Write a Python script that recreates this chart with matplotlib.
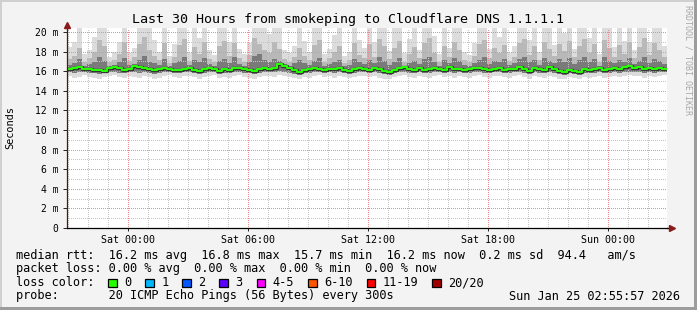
import numpy as np
import pandas as pd
import matplotlib
matplotlib.use("Agg")
import matplotlib.pyplot as plt
import matplotlib.dates as mdates
from matplotlib.patches import Rectangle

# ---- data (15 min steps over the last 30 hours, values in ms) ----
start = pd.Timestamp("2026-01-23 20:56")
n_steps = 120

median = [16.2, 16.3, 16.4, 16.2, 16.2, 16.1, 16.1, 16.0, 16.3, 16.4,
          16.3, 16.1, 16.2, 16.5, 16.4, 16.3, 16.2, 16.1, 16.2, 16.3,
          16.2, 16.1, 16.1, 16.2, 16.3, 16.1, 16.0, 16.2, 16.3, 16.2,
          16.0, 16.2, 16.1, 16.3, 16.3, 16.2, 16.1, 16.0, 16.2, 16.3,
          16.2, 16.3, 16.7, 16.5, 16.3, 16.1, 15.9, 16.1, 16.2, 16.3,
          16.2, 16.1, 16.2, 16.2, 16.3, 16.1, 16.0, 16.2, 16.3, 16.2,
          16.1, 16.3, 16.2, 16.0, 15.9, 16.1, 16.3, 16.4, 16.2, 16.1,
          16.3, 16.1, 16.2, 16.3, 16.2, 16.1, 16.4, 16.2, 16.2, 16.1,
          16.2, 16.3, 16.3, 16.2, 16.1, 16.2, 16.3, 16.1, 16.2, 16.2,
          16.4, 16.2, 16.0, 16.3, 16.2, 16.1, 16.4, 16.2, 16.0, 15.9,
          16.1, 16.0, 15.9, 16.2, 16.1, 16.2, 16.3, 16.1, 16.2, 16.3,
          16.2, 16.4, 16.5, 16.3, 16.4, 16.2, 16.3, 16.2, 16.3, 16.2]

smoke_max = [18.5, 19.0, 20.5, 17.8, 18.2, 19.5, 20.5, 20.5, 17.5, 18.0,
             19.0, 20.5, 17.9, 18.4, 20.5, 20.5, 20.5, 19.2, 18.0, 20.5,
             17.6, 18.8, 20.5, 20.5, 17.9, 20.5, 19.4, 20.5, 18.2, 17.7,
             20.5, 20.5, 19.0, 20.5, 18.3, 17.8, 18.9, 20.5, 20.5, 20.5,
             19.8, 20.5, 20.5, 18.2, 17.9, 18.6, 20.5, 19.1, 18.0, 20.5,
             20.5, 17.8, 18.3, 19.7, 20.5, 17.6, 18.0, 20.5, 19.2, 18.4,
             20.5, 19.0, 20.5, 20.5, 18.1, 20.5, 20.5, 17.9, 19.3, 20.5,
             18.2, 20.5, 20.5, 19.6, 17.8, 20.5, 18.4, 20.5, 20.5, 18.0,
             17.7, 18.9, 20.5, 20.5, 18.3, 20.5, 19.5, 20.5, 17.9, 18.6,
             20.5, 20.5, 19.2, 20.5, 18.0, 20.5, 20.5, 18.7, 20.5, 19.9,
             20.5, 18.3, 20.5, 20.5, 19.4, 20.5, 17.8, 20.5, 20.5, 18.5,
             20.5, 19.1, 20.5, 18.2, 20.5, 20.5, 19.0, 20.5, 20.5, 18.6]

smoke_p90 = [17.2, 17.6, 18.4, 16.9, 17.3, 18.0, 19.2, 18.6, 16.9, 17.1,
             17.8, 19.0, 17.0, 17.4, 18.8, 19.5, 18.2, 17.6, 17.1, 18.9,
             16.8, 17.5, 18.7, 19.3, 17.0, 18.5, 17.8, 19.0, 17.2, 16.9,
             18.6, 19.1, 17.6, 18.9, 17.3, 16.9, 17.7, 19.4, 18.8, 18.2,
             17.9, 19.0, 18.3, 17.2, 16.9, 17.5, 18.4, 17.6, 17.1, 18.7,
             19.2, 16.9, 17.3, 18.0, 18.6, 16.8, 17.1, 18.9, 17.7, 17.3,
             18.8, 17.5, 19.3, 18.6, 17.2, 18.4, 19.1, 16.9, 17.8, 18.5,
             17.3, 18.9, 19.4, 17.9, 16.9, 18.6, 17.4, 19.0, 18.2, 17.1,
             16.9, 17.6, 18.8, 19.2, 17.3, 18.4, 17.9, 18.7, 17.0, 17.5,
             18.9, 19.3, 17.7, 18.6, 17.1, 19.0, 18.3, 17.6, 18.8, 18.1,
             19.1, 17.4, 18.6, 19.3, 17.9, 18.8, 16.9, 19.2, 18.4, 17.5,
             18.7, 17.8, 19.0, 17.3, 18.5, 19.4, 17.7, 18.9, 18.2, 17.4]

smoke_p75 = [16.6, 16.8, 17.2, 16.5, 16.7, 16.9, 17.4, 17.0, 16.5, 16.6,
             16.9, 17.3, 16.6, 16.7, 17.1, 17.6, 16.9, 16.8, 16.6, 17.2,
             16.5, 16.8, 17.0, 17.5, 16.6, 17.1, 16.9, 17.3, 16.7, 16.5,
             17.0, 17.2, 16.8, 17.4, 16.7, 16.5, 16.9, 17.6, 17.8, 17.1,
             16.9, 17.2, 17.0, 16.7, 16.5, 16.8, 17.1, 16.8, 16.6, 17.0,
             17.3, 16.5, 16.7, 16.9, 17.1, 16.5, 16.6, 17.2, 16.9, 16.7,
             17.1, 16.8, 17.4, 17.0, 16.6, 16.9, 17.3, 16.5, 16.8, 17.0,
             16.7, 17.2, 17.5, 16.9, 16.5, 17.1, 16.8, 17.3, 17.0, 16.6,
             16.5, 16.8, 17.1, 17.4, 16.7, 17.0, 16.9, 17.2, 16.6, 16.8,
             17.2, 17.5, 16.9, 17.1, 16.6, 17.3, 17.0, 16.8, 17.2, 16.9,
             17.3, 16.7, 17.1, 17.5, 16.9, 17.2, 16.5, 17.4, 17.0, 16.8,
             17.1, 16.9, 17.3, 16.7, 17.0, 17.5, 16.8, 17.2, 17.0, 16.7]

smoke_p25 = [15.9, 15.8, 15.9, 15.9, 15.8, 15.8, 15.7, 15.8, 15.9, 15.9,
             15.8, 15.8, 15.9, 15.9, 15.8, 15.9, 15.8, 15.7, 15.8, 15.9,
             15.9, 15.8, 15.8, 15.9, 15.9, 15.8, 15.7, 15.8, 15.9, 15.9,
             15.7, 15.8, 15.8, 15.9, 15.9, 15.8, 15.8, 15.7, 15.8, 15.9,
             15.9, 15.9, 16.0, 15.9, 15.8, 15.7, 15.6, 15.8, 15.8, 15.9,
             15.9, 15.8, 15.9, 15.8, 15.9, 15.8, 15.7, 15.8, 15.9, 15.9,
             15.8, 15.9, 15.8, 15.7, 15.6, 15.8, 15.9, 15.9, 15.8, 15.8,
             15.9, 15.8, 15.8, 15.9, 15.9, 15.8, 15.9, 15.8, 15.9, 15.8,
             15.8, 15.9, 15.9, 15.8, 15.8, 15.9, 15.9, 15.8, 15.8, 15.9,
             15.9, 15.8, 15.7, 15.9, 15.8, 15.8, 15.9, 15.8, 15.7, 15.6,
             15.8, 15.7, 15.6, 15.8, 15.8, 15.8, 15.9, 15.8, 15.8, 15.9,
             15.8, 15.9, 15.9, 15.9, 15.9, 15.8, 15.9, 15.8, 15.9, 15.9]

smoke_min = [15.5, 15.3, 15.4, 15.6, 15.4, 15.3, 15.2, 15.4, 15.5, 15.6,
             15.4, 15.3, 15.5, 15.4, 15.3, 15.5, 15.4, 15.2, 15.3, 15.5,
             15.6, 15.4, 15.3, 15.5, 15.5, 15.4, 15.2, 15.4, 15.5, 15.6,
             15.3, 15.4, 15.3, 15.5, 15.6, 15.4, 15.3, 15.2, 15.4, 15.5,
             15.5, 15.4, 15.6, 15.5, 15.4, 15.3, 15.2, 15.4, 15.3, 15.5,
             15.6, 15.4, 15.5, 15.3, 15.5, 15.4, 15.3, 15.4, 15.5, 15.5,
             15.4, 15.5, 15.3, 15.2, 15.2, 15.4, 15.5, 15.6, 15.4, 15.3,
             15.5, 15.4, 15.3, 15.5, 15.6, 15.4, 15.5, 15.3, 15.5, 15.4,
             15.3, 15.5, 15.6, 15.4, 15.3, 15.5, 15.5, 15.4, 15.3, 15.5,
             15.6, 15.4, 15.2, 15.5, 15.4, 15.3, 15.5, 15.4, 15.2, 15.2,
             15.4, 15.3, 15.2, 15.4, 15.3, 15.4, 15.5, 15.3, 15.4, 15.5,
             15.4, 15.5, 15.6, 15.5, 15.5, 15.3, 15.5, 15.4, 15.5, 15.6]

loss_labels = ["0", "1", "2", "3", "4-5", "6-10", "11-19", "20/20"]
loss_colors = ["#26ff00", "#00b8ff", "#0059ff", "#5e00ff", "#ff00ff",
               "#ff5500", "#ff0000", "#a10000"]

title = "Last 30 Hours from smokeping to Cloudflare DNS 1.1.1.1"
legend_rtt = "median rtt:  16.2 ms avg  16.8 ms max  15.7 ms min  16.2 ms now  0.2 ms sd  94.4   am/s"
legend_loss = "packet loss: 0.00 % avg  0.00 % max  0.00 % min  0.00 % now"
legend_probe = "probe:       20 ICMP Echo Pings (56 Bytes) every 300s"
stamp = "Sun Jan 25 02:55:57 2026"

# ---- figure ----
W, H = 697, 310
mono = "DejaVu Sans Mono"
plt.rcParams['font.family'] = mono

fig = plt.figure(figsize=(W / 100, H / 100), dpi=100, facecolor="#f3f3f3")


def fx(px):
    return px / W


def fy(py):
    return 1 - py / H


ax = fig.add_axes([fx(67), fy(228), fx(600), (228 - 28) / H])
ax.set_facecolor("white")

times = pd.date_range(start, periods=n_steps + 1, freq="15min")
x = mdates.date2num(times)


def ext(v):
    return np.append(v, v[-1])


# smoke below the grid, median on top of it
ax.fill_between(x, ext(smoke_min), ext(smoke_max), step="post", color="#dcdcdc", lw=0, zorder=1.0)
ax.fill_between(x, ext(smoke_p25), ext(smoke_p90), step="post", color="#b8b8b8", lw=0, zorder=1.1)
ax.fill_between(x, ext(smoke_p25), ext(smoke_p75), step="post", color="#7a7a7a", lw=0, zorder=1.2)
ax.step(x, ext(median), where="post", color="#303030", lw=2.4, zorder=3)
ax.step(x, ext(median), where="post", color=loss_colors[0], lw=1.5, zorder=4)

ax.set_xlim(x[0], mdates.date2num(start + pd.Timedelta(hours=30)))
ax.set_ylim(0, 20.41)

# grid like rrdtool
ax.xaxis.set_major_locator(mdates.HourLocator(byhour=[0, 6, 12, 18]))
ax.xaxis.set_minor_locator(mdates.HourLocator())
ax.xaxis.set_major_formatter(mdates.DateFormatter("%a %H:%M"))
ax.set_yticks(np.arange(0, 21, 2))
ax.set_yticks(np.arange(1, 21, 2), minor=True)
ax.set_yticklabels(["0"] + ["%d m" % v for v in range(2, 21, 2)])

ax.set_axisbelow(False)
ax.grid(which="minor", color="#c4c4c4", lw=1.0, ls=(0, (0.72, 1.44)))
ax.grid(which="major", color="#f08c8c", lw=1.0, ls=(0, (0.72, 1.44)))
for axis in (ax.xaxis, ax.yaxis):
    for tk in axis.get_major_ticks() + axis.get_minor_ticks():
        tk.gridline.set_antialiased(False)

ax.tick_params(axis="y", which="major", labelsize=7.0, colors="#222222",
               length=3, width=0.7, pad=3, labelcolor="black")
ax.tick_params(axis="x", which="major", labelsize=7.2, colors="#222222",
               length=2, width=0.7, pad=3, labelcolor="black")
ax.tick_params(axis="both", which="minor", length=0)

for s in ["top", "right"]:
    ax.spines[s].set_visible(False)
ax.spines["bottom"].set_color("black")
ax.spines["bottom"].set_linewidth(0.9)
ax.spines["bottom"].set_zorder(5)
ax.spines["left"].set_color("#5a1010")
ax.spines["left"].set_linewidth(0.9)
ax.spines["left"].set_zorder(5)

# arrows
ax.plot([0], [1.015], transform=ax.transAxes, marker="^", ms=4.5, color="#8b1a1a",
        clip_on=False, zorder=10)
ax.plot([0, 0], [1.0, 1.015], transform=ax.transAxes, color="#5a1010", lw=0.9, clip_on=False)
ax.plot([1.0, 1.007], [0, 0], transform=ax.transAxes, color="black", lw=0.9, clip_on=False)
ax.plot([1.008], [0], transform=ax.transAxes, marker=">", ms=4.5, color="#8b1a1a",
        clip_on=False, zorder=10)

fig.text(fx(10), fy(128), "Seconds", rotation=90, ha="center", va="center", fontsize=7.4)
fig.text(fx(348), fy(19), title, ha="center", va="center", fontsize=9.6)
fig.text(fx(688), fy(5), "RRDTOOL / TOBI OETIKER", rotation=270, ha="center", va="top",
         fontsize=6.0, color="#a8a8a8")

# legend block
fs = 8.55
fig.text(fx(16), fy(255), legend_rtt, ha="left", va="center", fontsize=fs)
fig.text(fx(16), fy(268.5), legend_loss, ha="left", va="center", fontsize=fs)
fig.text(fx(16), fy(282.5), "loss color:", ha="left", va="center", fontsize=fs)
fig.text(fx(16), fy(296), legend_probe, ha="left", va="center", fontsize=fs)
fig.text(fx(680), fy(296), stamp, ha="right", va="center", fontsize=fs)

bx = 108.0
for lab, col in zip(loss_labels, loss_colors):
    fig.add_artist(Rectangle((fx(bx), fy(287)), fx(8.5), 8.5 / H, transform=fig.transFigure,
                             facecolor=col, edgecolor="black", lw=0.9))
    fig.text(fx(bx + 16), fy(282.5), lab, ha="left", va="center", fontsize=fs)
    bx += 30 + 7.15 * len(lab)

# 3d frame
fig.add_artist(Rectangle((0, fy(2)), 1, 2 / H, transform=fig.transFigure, color="#d0d0d0", lw=0))
fig.add_artist(Rectangle((0, 0), fx(2), 1, transform=fig.transFigure, color="#d0d0d0", lw=0))
fig.add_artist(Rectangle((fx(694), 0), fx(3), 1, transform=fig.transFigure, color="#9c9c9c", lw=0))
fig.add_artist(Rectangle((0, 0), 1, 3 / H, transform=fig.transFigure, color="#9c9c9c", lw=0))

fig.savefig("out.png", dpi=100, facecolor=fig.get_facecolor())
